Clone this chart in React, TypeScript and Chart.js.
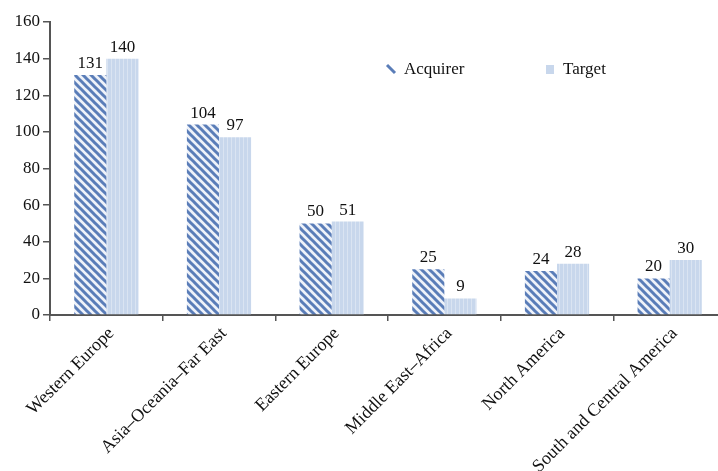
import React, { useEffect, useRef } from "react";
import { Chart, registerables } from "chart.js";

Chart.register(...registerables);

const categories = [
  "Western Europe",
  "Asia\u2013Oceania\u2013Far East",
  "Eastern Europe",
  "Middle East\u2013Africa",
  "North America",
  "South and Central America",
];
const acquirerValues = [131, 104, 50, 25, 24, 20];
const targetValues = [140, 97, 51, 9, 28, 30];
const seriesNames = ["Acquirer", "Target"];
const yTicks = [0, 20, 40, 60, 80, 100, 120, 140, 160];

const FONT = "'Liberation Serif', 'Times New Roman', serif";

function makeStripePattern(): CanvasPattern | string {
  const c = document.createElement("canvas");
  const s = 8;
  c.width = s;
  c.height = s;
  const ctx = c.getContext("2d");
  if (!ctx) return "#5a7db8";
  ctx.fillStyle = "#eef2f9";
  ctx.fillRect(0, 0, s, s);
  ctx.strokeStyle = "#5a7db8";
  ctx.lineWidth = 3;
  ctx.beginPath();
  for (let k = -1; k <= 1; k++) {
    ctx.moveTo(k * s - 2, -2);
    ctx.lineTo(k * s + s + 2, s + 2);
  }
  ctx.stroke();
  const p = ctx.createPattern(c, "repeat");
  return p || "#5a7db8";
}

function makeTargetPattern(): CanvasPattern | string {
  const c = document.createElement("canvas");
  c.width = 4;
  c.height = 4;
  const ctx = c.getContext("2d");
  if (!ctx) return "#c9d8ec";
  ctx.fillStyle = "#c8d7ec";
  ctx.fillRect(0, 0, 4, 4);
  ctx.fillStyle = "#dae4f2";
  ctx.fillRect(3, 0, 1, 4);
  const p = ctx.createPattern(c, "repeat");
  return p || "#c9d8ec";
}

export default function App() {
  const ref = useRef<HTMLCanvasElement | null>(null);

  useEffect(() => {
    document.body.style.margin = "0";
    const canvas = ref.current;
    if (!canvas) return;
    const stripe = makeStripePattern();
    const target = makeTargetPattern();

    const valueLabels = {
      id: "valueLabels",
      afterDatasetsDraw(chart: any) {
        const ctx = chart.ctx;
        ctx.save();
        ctx.font = `17px ${FONT}`;
        ctx.fillStyle = "#111";
        ctx.textAlign = "center";
        ctx.textBaseline = "bottom";
        chart.data.datasets.forEach((ds: any, di: number) => {
          const meta = chart.getDatasetMeta(di);
          meta.data.forEach((bar: any, i: number) => {
            ctx.fillText(String(ds.data[i]), bar.x, bar.y - 3);
          });
        });
        ctx.restore();
      },
    };

    const customLegend = {
      id: "customLegend",
      afterDraw(chart: any) {
        const ctx = chart.ctx;
        ctx.save();
        ctx.font = `17px ${FONT}`;
        ctx.fillStyle = "#111";
        ctx.textBaseline = "middle";
        ctx.textAlign = "left";
        ctx.strokeStyle = "#5a7db8";
        ctx.lineWidth = 3;
        ctx.beginPath();
        ctx.moveTo(387, 65);
        ctx.lineTo(395, 73);
        ctx.stroke();
        ctx.fillText(seriesNames[0], 404, 70);
        ctx.fillStyle = "#c8d7ec";
        ctx.fillRect(546, 65, 8, 9);
        ctx.fillStyle = "#111";
        ctx.fillText(seriesNames[1], 563, 70);
        ctx.restore();
      },
    };

    const chart = new Chart(canvas, {
      type: "bar",
      data: {
        labels: categories,
        datasets: [
          {
            label: seriesNames[0],
            data: acquirerValues,
            backgroundColor: stripe as any,
            borderWidth: 0,
            categoryPercentage: 0.57,
            barPercentage: 1.0,
          },
          {
            label: seriesNames[1],
            data: targetValues,
            backgroundColor: target as any,
            borderWidth: 0,
            categoryPercentage: 0.57,
            barPercentage: 1.0,
          },
        ],
      },
      options: {
        responsive: false,
        animation: false,
        layout: { padding: { top: 22, left: 0, right: 0, bottom: 0 } },
        plugins: {
          legend: { display: false },
          tooltip: { enabled: false },
        },
        scales: {
          x: {
            offset: true,
            grid: {
              offset: true,
              drawOnChartArea: false,
              drawTicks: true,
              tickLength: 6,
              color: "#555",
              lineWidth: 1.5,
            },
            border: { display: true, color: "#555", width: 2 },
            ticks: {
              autoSkip: false,
              maxRotation: 45,
              minRotation: 45,
              color: "#111",
              font: { family: FONT, size: 18 },
              padding: 2,
              labelOffset: 5,
            },
            afterFit(scale: any) {
              scale.height = 156;
            },
          },
          y: {
            min: 0,
            max: 160,
            afterBuildTicks(scale: any) {
              scale.ticks = yTicks.map((v) => ({ value: v }));
            },
            grid: {
              drawOnChartArea: false,
              drawTicks: true,
              tickLength: 7,
              color: "#555",
              lineWidth: 1.5,
            },
            border: { display: true, color: "#555", width: 2 },
            ticks: {
              color: "#111",
              font: { family: FONT, size: 17 },
              padding: 3,
            },
            afterFit(scale: any) {
              scale.width = 50;
            },
          },
        },
      },
      plugins: [valueLabels, customLegend],
    });

    return () => chart.destroy();
  }, []);

  return (
    <div style={{ width: 718, height: 471, overflow: "hidden" }}>
      <canvas ref={ref} width={726} height={471} style={{ display: "block" }} />
    </div>
  );
}
